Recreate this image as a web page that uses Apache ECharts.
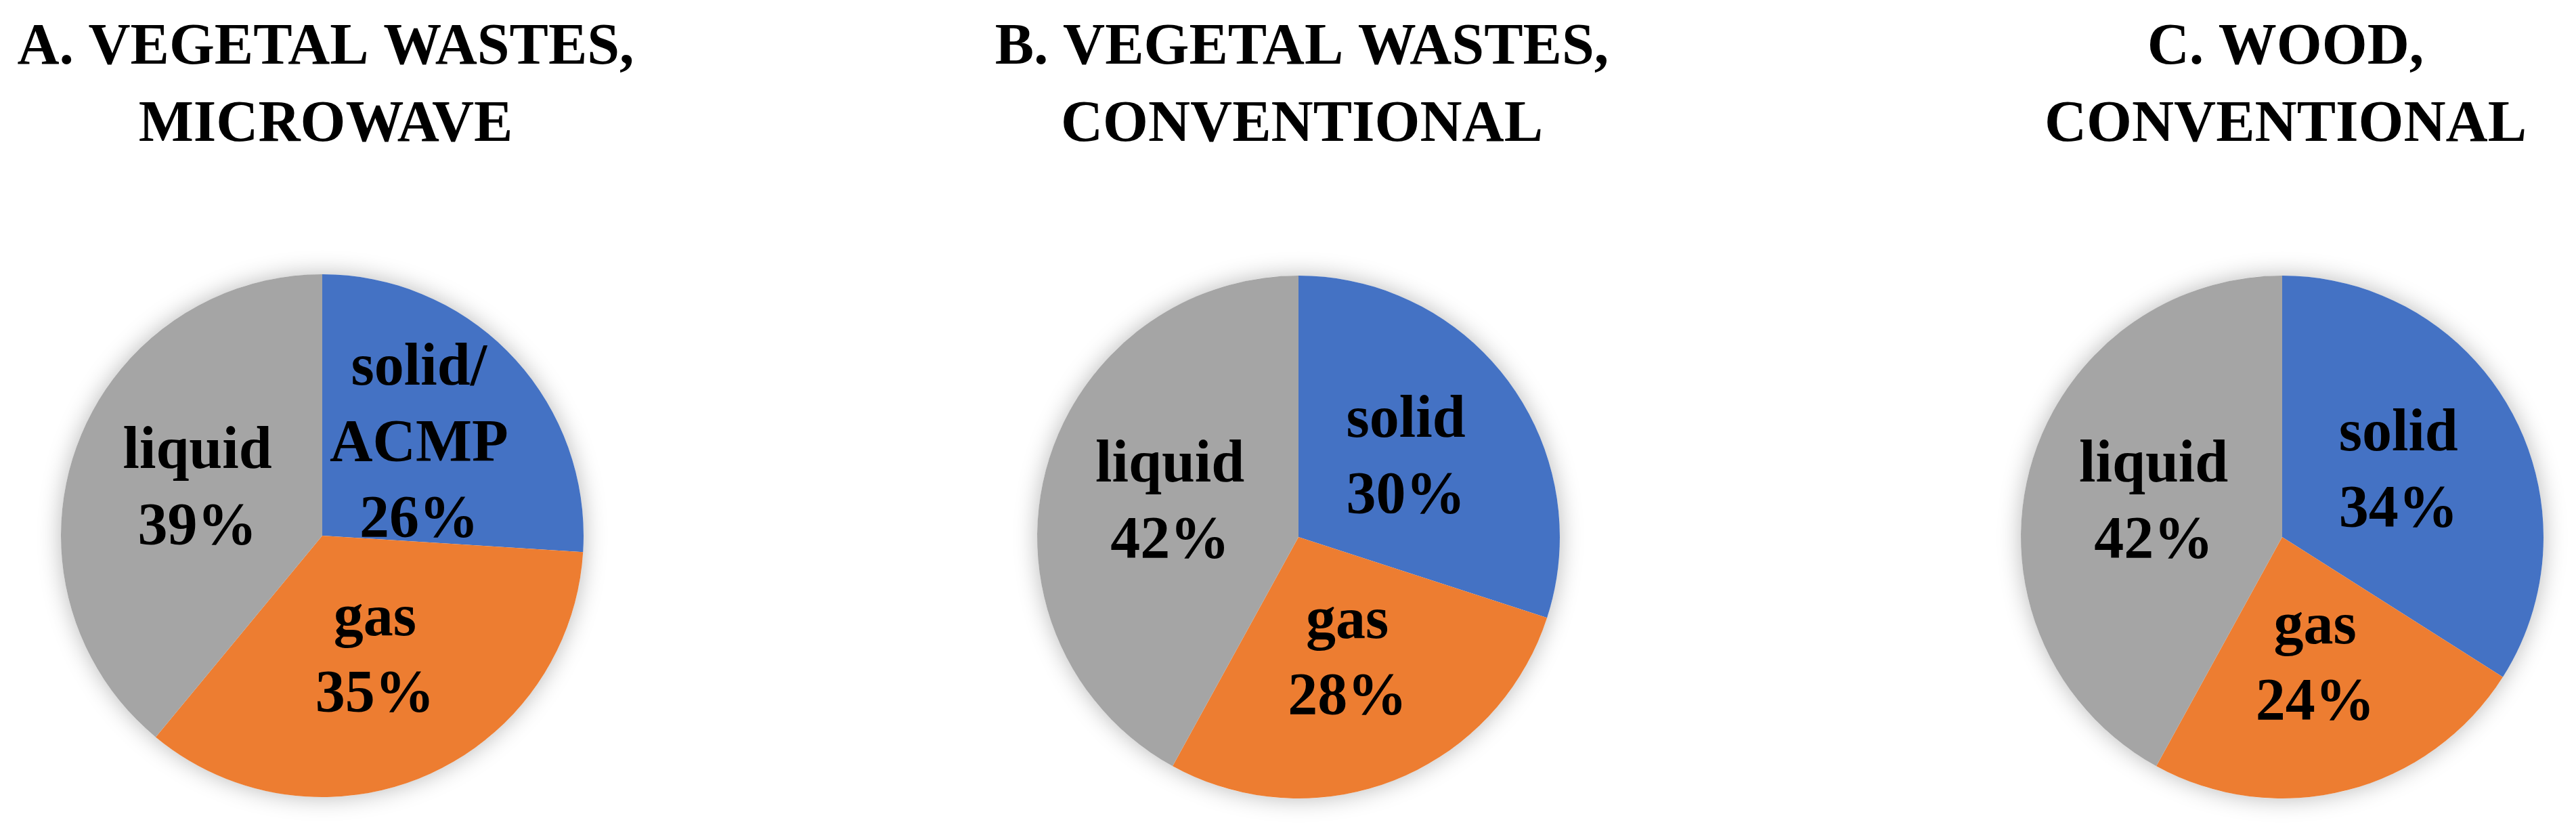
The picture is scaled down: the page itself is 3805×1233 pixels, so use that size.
<!DOCTYPE html>
<html>
<head>
<meta charset="utf-8">
<script src="https://cdn.jsdelivr.net/npm/echarts@6/dist/echarts.min.js"></script>
<style>
  html, body { margin: 0; padding: 0; background: #fff; }
  #main { width: 3805px; height: 1233px; }
</style>
</head>
<body>
<div id="main"></div>
<script>
// chart titles
const chartTitles = [
  'A. VEGETAL WASTES,\nMICROWAVE',
  'B. VEGETAL WASTES,\nCONVENTIONAL',
  'C. WOOD,\nCONVENTIONAL'
];
// product fractions, per chart
const namesA = ['solid/\nACMP', 'gas', 'liquid'];
const namesB = ['solid', 'gas', 'liquid'];
const namesC = ['solid', 'gas', 'liquid'];
// yields in %
const valuesA = [26, 35, 39];
const valuesB = [30, 28, 42];
const valuesC = [34, 24, 42];

const sliceColors = ['#4472C4', '#ED7D31', '#A5A5A5'];
const centers = [[476, 791], [1918, 793], [3371, 793]];
const pieRadius = 386;
const serif = '"Liberation Serif", "DejaVu Serif", serif';

let myChart = echarts.init(document.getElementById('main'));

function makeData(names, values) {
  return names.map(function (n, i) {
    return { name: n, value: values[i], itemStyle: { color: sliceColors[i] } };
  });
}

let allNames = [namesA, namesB, namesC];
let allValues = [valuesA, valuesB, valuesC];

let series = [];
let titles = [];
for (let k = 0; k < 3; k++) {
  titles.push({
    text: chartTitles[k],
    left: centers[k][0],
    top: 10,
    textAlign: 'center',
    textStyle: {
      fontFamily: serif,
      fontWeight: 'bold',
      fontSize: 86,
      lineHeight: 114,
      color: '#000'
    }
  });
  // soft shadow under the whole pie
  series.push({
    type: 'pie',
    silent: true,
    z: 1,
    center: centers[k],
    radius: pieRadius,
    label: { show: false },
    labelLine: { show: false },
    itemStyle: {
      color: '#ffffff',
      shadowBlur: 34,
      shadowColor: 'rgba(0,0,0,0.28)'
    },
    data: [{ value: 1, name: '' }]
  });
  series.push({
    type: 'pie',
    z: 2,
    center: centers[k],
    radius: pieRadius,
    startAngle: 90,
    clockwise: true,
    animation: false,
    itemStyle: { borderWidth: 0 },
    label: {
      show: true,
      position: 'inside',
      formatter: function (p) { return p.name + '\n' + p.value + '%'; },
      fontFamily: serif,
      fontWeight: 'bold',
      fontSize: 88,
      lineHeight: 112,
      color: '#000',
      align: 'center'
    },
    labelLine: { show: false },
    emphasis: { disabled: true },
    data: makeData(allNames[k], allValues[k])
  });
}

myChart.setOption({
  backgroundColor: '#ffffff',
  animation: false,
  title: titles,
  series: series
});
</script>
</body>
</html>
